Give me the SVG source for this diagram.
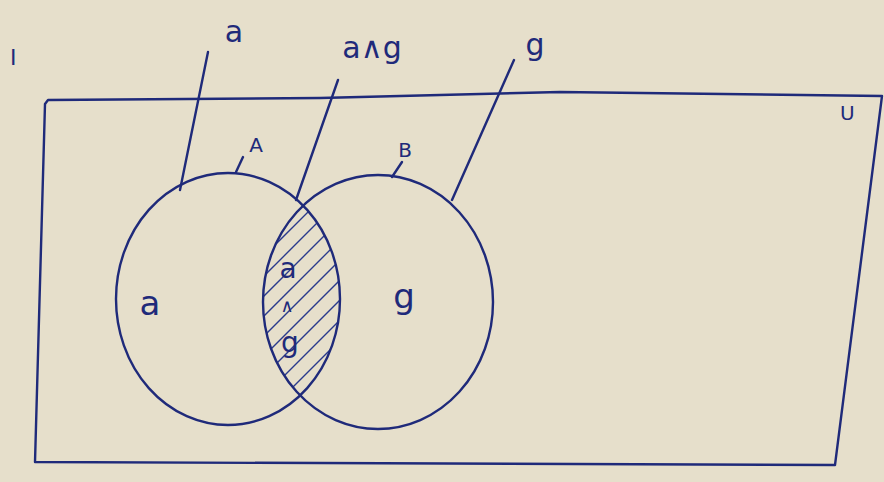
<svg xmlns="http://www.w3.org/2000/svg" width="884" height="482" viewBox="0 0 884 482">
<style>
.ink{fill:none;stroke:#1f2a7a;stroke-width:2.4;stroke-linecap:round;stroke-linejoin:round}
.hatch{fill:none;stroke:#2a3a8c;stroke-width:1.4}
.t{font-family:"DejaVu Sans",sans-serif;fill:#1f2a7a}
</style>
<defs>
<clipPath id="clipA"><ellipse cx="228" cy="299" rx="112" ry="126"/></clipPath>
<clipPath id="clipB"><ellipse cx="378" cy="302" rx="115" ry="127"/></clipPath>
</defs>
<rect width="884" height="482" fill="#e6dfcb"/>
<g id="universe">
<path class="ink" d="M45,104 L48,100 L320,98 L560,92 L882,96 L835,465 L35,462 L45,104"/>
<text class="t" x="840" y="120" font-size="20">U</text>
</g>
<text id="I" class="t" x="10" y="65" font-size="22">I</text>
<g id="hatching">
<g clip-path="url(#clipB)">
<g clip-path="url(#clipA)">
<path class="hatch" d="M200,420 L400,220 M200,400 L400,200 M200,380 L400,180 M200,360 L400,160 M200,340 L400,140 M200,320 L400,120 M200,300 L400,100 M200,280 L400,80 M200,260 L400,60 M200,440 L400,240 M200,460 L400,260 M200,480 L400,280 M200,500 L400,300 M200,520 L400,320"/>
</g>
</g>
</g>
<g id="setA">
<ellipse class="ink" cx="228" cy="299" rx="112" ry="126"/>
<text class="t" x="150" y="315" font-size="34" text-anchor="middle">a</text>
<text class="t" x="256" y="152" font-size="20" text-anchor="middle">A</text>
</g>
<g id="setB">
<ellipse class="ink" cx="378" cy="302" rx="115" ry="127"/>
<text class="t" x="404" y="308" font-size="34" text-anchor="middle">g</text>
<text class="t" x="405" y="157" font-size="20" text-anchor="middle">B</text>
</g>
<g id="intersection">
<text class="t" x="288" y="278" font-size="28" text-anchor="middle">a</text>
<text class="t" x="287" y="312" font-size="18" text-anchor="middle">∧</text>
<text class="t" x="290" y="352" font-size="28" text-anchor="middle">g</text>
</g>
<g id="labels">
<text class="t" x="234" y="42" font-size="30" text-anchor="middle">a</text>
<text class="t" x="372" y="58" font-size="30" text-anchor="middle">a∧g</text>
<text class="t" x="535" y="55" font-size="30" text-anchor="middle">g</text>
</g>
<g id="connectors">
<path class="ink" d="M208,52 L180,190"/>
<path class="ink" d="M338,80 L296,200"/>
<path class="ink" d="M514,60 L452,200"/>
<path class="ink" d="M243,157 L236,172"/>
<path class="ink" d="M402,162 L392,177"/>
</g>
</svg>
